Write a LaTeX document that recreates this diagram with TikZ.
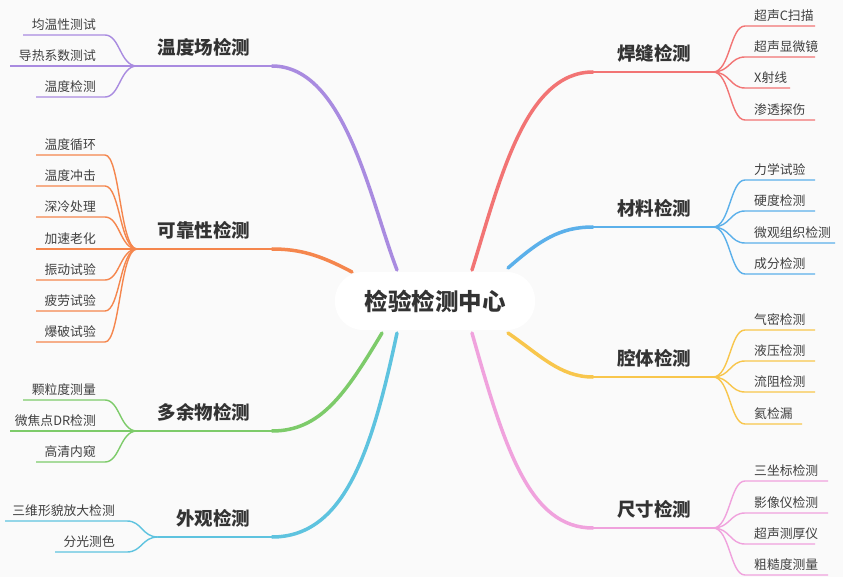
\documentclass[tikz,border=0pt]{standalone}
\usepackage{fontspec}
\setmainfont{Noto Sans CJK SC}
\begin{document}
\begin{tikzpicture}[x=1pt,y=-1pt,
  sub/.style={font=\fontsize{12.8}{14}\selectfont, text=black!75, inner sep=1pt},
  br/.style={font=\fontsize{18.5}{20}\selectfont\bfseries, text=black!80},
  mainl/.style={line width=3.5pt, line cap=round},
  ul/.style={line width=2pt},
  subl/.style={line width=1.4pt}]
\definecolor{cA}{HTML}{A98BE0}\definecolor{cB}{HTML}{F5864D}
\definecolor{cC}{HTML}{7DCB6A}\definecolor{cD}{HTML}{5EC3DF}
\definecolor{cE}{HTML}{F27474}\definecolor{cF}{HTML}{5BB0EA}
\definecolor{cG}{HTML}{F8C64C}\definecolor{cH}{HTML}{F0A2DD}
\fill[white!98!black] (0,0) rectangle (843,577);
\useasboundingbox (0,0) rectangle (843,577);
% center
\node[fill=white, rounded corners=28pt, minimum width=200pt, minimum height=58pt,
  font=\fontsize{23.5}{26}\selectfont\bfseries, text=black!80] (c) at (435,301) {检验检测中心};
% ---- left branches
\coordinate (jA) at (137,66); \coordinate (jB) at (137,249);
\coordinate (jC) at (137,431); \coordinate (jD) at (158,537);
\coordinate (eA) at (272,66); \coordinate (eB) at (272,249);
\coordinate (eC) at (272,431); \coordinate (eD) at (272,537);
\draw[mainl,cA] (397,270) .. controls (370,200) and (345,66) .. (eA);
\draw[mainl,cB] (352,272) .. controls (320,255) and (300,249) .. (eB);
\draw[mainl,cC] (382,333) .. controls (345,395) and (320,431) .. (eC);
\draw[mainl,cD] (397,333) .. controls (372,450) and (345,537) .. (eD);
\draw[ul,cA] (eA) -- (jA); \draw[ul,cB] (eB) -- (jB);
\draw[ul,cC] (eC) -- (jC); \draw[ul,cD] (eD) -- (jD);
\node[br,anchor=east] (bA) at (254,47) {温度场检测};
\node[br,anchor=east] (bB) at (254,230) {可靠性检测};
\node[br,anchor=east] (bC) at (254,412) {多余物检测};
\node[br,anchor=east] (bD) at (254,518) {外观检测};
\foreach \y/\t/\xs [count=\i] in {35/均温性测试/23, 66/导热系数测试/10, 97/温度检测/36}{
  \coordinate (tA\i) at (\xs,\y);
  \node[sub,anchor=south east] (sA\i) at (97,\y-3) {\t};
  \draw[subl,cA] (jA) .. controls (120,66) and (120,\y) .. (105,\y) -- (tA\i);}
\foreach \y/\t [count=\i] in {155/温度循环,186/温度冲击,217/深冷处理,249/加速老化,280/振动试验,311/疲劳试验,342/爆破试验}{
  \coordinate (tB\i) at (36,\y);
  \node[sub,anchor=south east] (sB\i) at (97,\y-3) {\t};
  \draw[subl,cB] (jB) .. controls (120,249) and (120,\y) .. (105,\y) -- (tB\i);}
\foreach \y/\t/\xs [count=\i] in {400/颗粒度测量/23, 431/微焦点DR检测/10, 462/高清内窥/36}{
  \coordinate (tC\i) at (\xs,\y);
  \node[sub,anchor=south east] (sC\i) at (97,\y-3) {\t};
  \draw[subl,cC] (jC) .. controls (120,431) and (120,\y) .. (105,\y) -- (tC\i);}
\foreach \y/\t/\xs [count=\i] in {521/三维形貌放大检测/5, 552/分光测色/55}{
  \coordinate (tD\i) at (\xs,\y);
  \node[sub,anchor=south east] (sD\i) at (116,\y-3) {\t};
  \draw[subl,cD] (jD) .. controls (142,537) and (142,\y) .. (127,\y) -- (tD\i);}
% ---- right branches
\coordinate (jE) at (713,72); \coordinate (jF) at (713,227);
\coordinate (jG) at (713,377); \coordinate (jH) at (713,528);
\coordinate (eE) at (593,72); \coordinate (eF) at (593,227);
\coordinate (eG) at (593,377); \coordinate (eH) at (593,528);
\draw[mainl,cE] (472,270) .. controls (500,180) and (525,72) .. (eE);
\draw[mainl,cF] (508,268) .. controls (540,240) and (560,227) .. (eF);
\draw[mainl,cG] (508,333) .. controls (540,355) and (560,377) .. (eG);
\draw[mainl,cH] (472,333) .. controls (505,450) and (530,528) .. (eH);
\draw[ul,cE] (eE) -- (jE); \draw[ul,cF] (eF) -- (jF);
\draw[ul,cG] (eG) -- (jG); \draw[ul,cH] (eH) -- (jH);
\node[br] (bE) at (654,53) {焊缝检测};
\node[br] (bF) at (654,208) {材料检测};
\node[br] (bG) at (654,358) {腔体检测};
\node[br] (bH) at (654,509) {尺寸检测};
\foreach \y/\t/\xe [count=\i] in {26/超声C扫描/815, 57/超声显微镜/815, 88/X射线/790, 120/渗透探伤/815}{
  \coordinate (tE\i) at (\xe,\y);
  \node[sub,anchor=south west] (sE\i) at (753,\y-3) {\t};
  \draw[subl,cE] (jE) .. controls (730,72) and (730,\y) .. (745,\y) -- (tE\i);}
\foreach \y/\t/\xe [count=\i] in {180/力学试验/815, 211/硬度检测/815, 243/微观组织检测/835, 274/成分检测/815}{
  \coordinate (tF\i) at (\xe,\y);
  \node[sub,anchor=south west] (sF\i) at (753,\y-3) {\t};
  \draw[subl,cF] (jF) .. controls (730,227) and (730,\y) .. (745,\y) -- (tF\i);}
\foreach \y/\t/\xe [count=\i] in {330/气密检测/815, 361/液压检测/815, 392/流阻检测/815, 424/氦检漏/802}{
  \coordinate (tG\i) at (\xe,\y);
  \node[sub,anchor=south west] (sG\i) at (753,\y-3) {\t};
  \draw[subl,cG] (jG) .. controls (730,377) and (730,\y) .. (745,\y) -- (tG\i);}
\foreach \y/\t/\xe [count=\i] in {481/三坐标检测/828, 513/影像仪检测/828, 544/超声测厚仪/815, 575/粗糙度测量/828}{
  \coordinate (tH\i) at (\xe,\y);
  \node[sub,anchor=south west] (sH\i) at (753,\y-3) {\t};
  \draw[subl,cH] (jH) .. controls (730,528) and (730,\y) .. (745,\y) -- (tH\i);}
\end{tikzpicture}
\end{document}
